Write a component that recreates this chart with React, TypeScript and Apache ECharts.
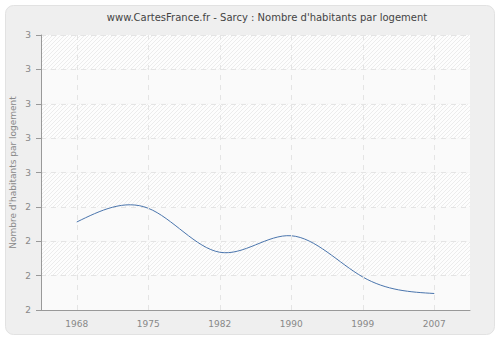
import React, { useEffect, useRef } from 'react';
import * as echarts from 'echarts';

const years: string[] = ['1968', '1975', '1982', '1990', '1999', '2007'];
const values: number[] = [2.32, 2.37, 2.21, 2.27, 2.12, 2.06];
const yMin = 2;
const yMax = 3;
const yStep = 0.125;
const titleText = "www.CartesFrance.fr - Sarcy : Nombre d'habitants par logement";
const yName = "Nombre d'habitants par logement";

// natural cubic spline through pixel points -> bezier segments
function splineSegments(pts: number[][]) {
  const n = pts.length;
  const h: number[] = [];
  for (let i = 0; i < n - 1; i++) h.push(pts[i + 1][0] - pts[i][0]);
  const M = new Array(n).fill(0);
  if (n > 2) {
    const a: number[] = [], b: number[] = [], c: number[] = [], d: number[] = [];
    for (let i = 1; i < n - 1; i++) {
      a.push(h[i - 1]);
      b.push(2 * (h[i - 1] + h[i]));
      c.push(h[i]);
      d.push(6 * ((pts[i + 1][1] - pts[i][1]) / h[i] - (pts[i][1] - pts[i - 1][1]) / h[i - 1]));
    }
    const m = b.length;
    const cp: number[] = new Array(m).fill(0);
    const dp: number[] = new Array(m).fill(0);
    cp[0] = c[0] / b[0];
    dp[0] = d[0] / b[0];
    for (let i = 1; i < m; i++) {
      const den = b[i] - a[i] * cp[i - 1];
      cp[i] = c[i] / den;
      dp[i] = (d[i] - a[i] * dp[i - 1]) / den;
    }
    const sol: number[] = new Array(m).fill(0);
    sol[m - 1] = dp[m - 1];
    for (let i = m - 2; i >= 0; i--) sol[i] = dp[i] - cp[i] * sol[i + 1];
    for (let i = 0; i < m; i++) M[i + 1] = sol[i];
  }
  const segs: any[] = [];
  for (let i = 0; i < n - 1; i++) {
    const hi = h[i];
    const s = (pts[i + 1][1] - pts[i][1]) / hi;
    const mL = s - (hi * (2 * M[i] + M[i + 1])) / 6;
    const mR = s + (hi * (M[i] + 2 * M[i + 1])) / 6;
    segs.push({
      x1: pts[i][0],
      y1: pts[i][1],
      cpx1: pts[i][0] + hi / 3,
      cpy1: pts[i][1] + (hi / 3) * mL,
      cpx2: pts[i + 1][0] - hi / 3,
      cpy2: pts[i + 1][1] - (hi / 3) * mR,
      x2: pts[i + 1][0],
      y2: pts[i + 1][1],
    });
  }
  return segs;
}

export default function App() {
  const ref = useRef<HTMLDivElement>(null);
  useEffect(() => {
    if (!ref.current) return;
    const chart = echarts.init(ref.current, null, { renderer: 'svg' });
    const hatchSvg =
      "<svg xmlns='http://www.w3.org/2000/svg' width='4' height='4'><rect width='4' height='4' fill='#fdfdfd'/><path d='M0 4L4 0M-1 1L1 -1M3 5L5 3' stroke='#ececec' stroke-width='1'/></svg>";
    const hatch: any = {
      image: 'data:image/svg+xml;charset=utf-8,' + encodeURIComponent(hatchSvg),
      repeat: 'repeat',
      imageWidth: 4,
      imageHeight: 4,
    };
    const font = 'DejaVu Sans';
    const lineColor = '#4a75ad';
    chart.setOption({
      animation: false,
      backgroundColor: '#ffffff',
      graphic: [
        {
          type: 'rect',
          z: -10,
          shape: { x: 5.5, y: 5.5, width: 489, height: 329, r: 8 },
          style: { fill: '#efefef', stroke: '#e2e2e2', lineWidth: 1 },
        },
        {
          type: 'text',
          x: 267,
          y: 17,
          style: {
            text: titleText,
            align: 'center',
            verticalAlign: 'middle',
            textAlign: 'center',
            textVerticalAlign: 'middle',
            fontSize: 10,
            fontFamily: font,
            fill: '#444444',
          },
        },
      ],
      grid: { left: 41, right: 30, top: 35, bottom: 30, containLabel: false, outerBoundsMode: 'none' },
      xAxis: {
        type: 'category',
        data: years,
        boundaryGap: true,
        axisLine: { lineStyle: { color: '#999999', width: 1 } },
        axisTick: { alignWithLabel: true, length: 5, lineStyle: { color: '#999999' } },
        axisLabel: { color: '#888888', fontSize: 9, fontFamily: font, margin: 9 },
        splitLine: { show: false },
      },
      yAxis: {
        type: 'value',
        min: yMin,
        max: yMax,
        interval: yStep,
        name: yName,
        nameLocation: 'middle',
        nameGap: 24,
        nameRotate: 90,
        nameMoveOverlap: false,
        nameTextStyle: { color: '#888888', fontSize: 9, fontFamily: font },
        axisLine: { show: true, lineStyle: { color: '#999999', width: 1 } },
        axisTick: { show: true, length: 5, lineStyle: { color: '#999999' } },
        axisLabel: {
          color: '#888888',
          fontSize: 9,
          fontFamily: font,
          margin: 10,
          formatter: (v: number) => String(Math.round(v)),
        },
        splitLine: { show: true, lineStyle: { color: '#e4e4e4', type: [5, 5], width: 1 } },
        splitArea: { show: true, areaStyle: { color: ['#fafafa', hatch] } },
      },
      series: [
        {
          type: 'line',
          data: values,
          symbol: 'none',
          silent: true,
          lineStyle: { opacity: 0 },
          z: 1,
          markLine: {
            silent: true,
            symbol: 'none',
            label: { show: false },
            lineStyle: { color: '#e4e4e4', type: [5, 5], width: 1 },
            emphasis: { disabled: true },
            data: years.map((y) => ({ xAxis: y })),
          },
        },
        {
          type: 'custom',
          data: values.map((v, i) => [i, v]),
          encode: { x: 0, y: 1 },
          z: 3,
          silent: true,
          renderItem: (params: any, api: any) => {
            if (params.dataIndex !== 0) return null;
            const pts = values.map((v, i) => api.coord([i, v]));
            const segs = splineSegments(pts);
            return {
              type: 'group',
              children: segs.map((s) => ({
                type: 'bezierCurve',
                shape: s,
                style: { stroke: lineColor, lineWidth: 1, fill: 'none' },
              })),
            };
          },
        },
      ],
    });
    return () => chart.dispose();
  }, []);
  return <div ref={ref} style={{ position: 'fixed', left: 0, top: 0, width: 500, height: 340 }} />;
}
